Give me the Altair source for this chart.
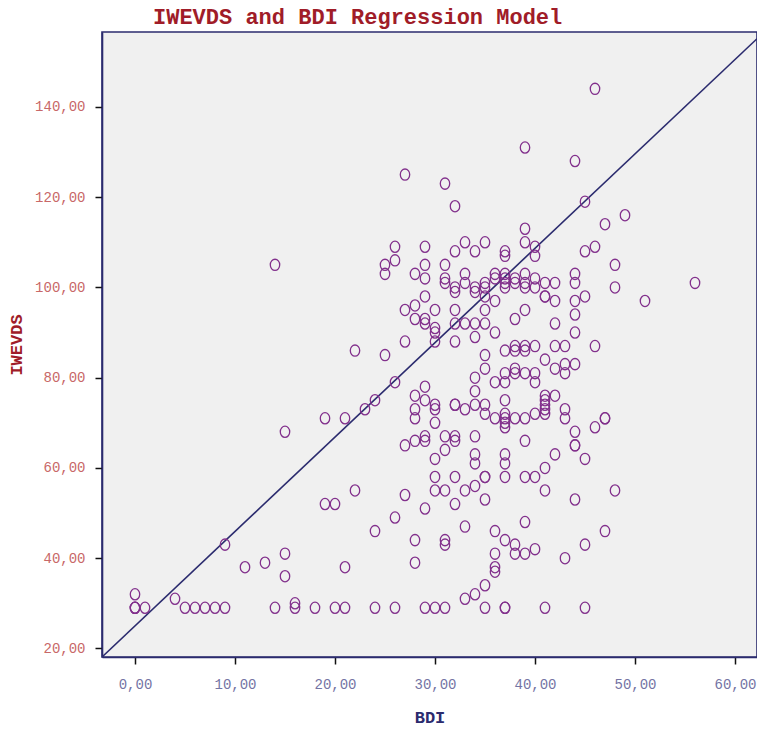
import altair as alt
import pandas as pd

# BDI value for each respondent (column by column)
bdi = (
    [0] * 4 + [1, 4, 5, 6, 7, 8] + [9] * 2 + [11, 13] + [14] * 2 + [15] * 3 + [16] * 2 + [18]
    + [19] * 2 + [20] * 2 + [21] * 3 + [22] * 2 + [23] + [24] * 3 + [25] * 3 + [26] * 5
    + [27] * 5 + [28] * 9 + [29] * 12 + [30] * 11 + [31] * 10 + [32] * 13 + [33] * 8
    + [34] * 13 + [35] * 15 + [36] * 10 + [37] * 20 + [38] * 10 + [39] * 15 + [40] * 10
    + [41] * 12 + [42] * 7 + [43] * 6 + [44] * 11 + [45] * 6 + [46] * 4 + [47] * 4
    + [48] * 3 + [49, 51, 56]
)

# IWEVDS value for each respondent, same order as bdi
iwevds = [
    32, 29, 29, 29,            # 0
    29, 31, 29, 29, 29, 29,    # 1,4,5,6,7,8
    43, 29,                    # 9
    38, 39,                    # 11,13
    105, 29,                   # 14
    68, 41, 36,                # 15
    30, 29,                    # 16
    29,                        # 18
    71, 52,                    # 19
    52, 29,                    # 20
    71, 38, 29,                # 21
    86, 55,                    # 22
    73,                        # 23
    75, 46, 29,                # 24
    105, 103, 85,              # 25
    109, 106, 79, 49, 29,      # 26
    125, 95, 88, 65, 54,       # 27
    103, 96, 93, 76, 73, 71, 66, 44, 39,                     # 28
    109, 105, 102, 98, 93, 92, 78, 75, 67, 66, 51, 29,       # 29
    95, 91, 90, 88, 74, 73, 70, 62, 58, 55, 29,              # 30
    123, 105, 102, 101, 67, 64, 55, 44, 43, 29,              # 31
    118, 108, 100, 99, 95, 92, 88, 74, 74, 67, 66, 58, 52,   # 32
    110, 103, 101, 92, 73, 55, 47, 31,                       # 33
    108, 100, 99, 92, 89, 80, 77, 74, 67, 63, 61, 56, 32,    # 34
    110, 101, 100, 98, 95, 92, 85, 82, 74, 72, 58, 58, 53, 34, 29,  # 35
    103, 102, 97, 90, 79, 71, 46, 41, 38, 37,                # 36
    108, 107, 103, 102, 101, 100, 86, 81, 79, 75, 72, 71, 70, 69, 63, 61, 58, 44, 29, 29,  # 37
    102, 101, 93, 87, 86, 82, 81, 71, 43, 41,                # 38
    131, 113, 110, 103, 101, 100, 95, 87, 86, 81, 71, 66, 58, 48, 41,  # 39
    109, 107, 102, 100, 87, 81, 79, 72, 58, 42,              # 40
    101, 98, 98, 84, 76, 75, 74, 73, 72, 60, 55, 29,         # 41
    101, 97, 92, 87, 82, 76, 63,                             # 42
    87, 83, 81, 73, 71, 40,                                  # 43
    128, 103, 101, 97, 94, 90, 83, 68, 65, 65, 53,           # 44
    119, 108, 98, 62, 43, 29,                                # 45
    144, 109, 87, 69,                                        # 46
    114, 71, 71, 46,                                         # 47
    105, 100, 55,                                            # 48
    116, 97, 101,                                            # 49,51,56
]

x_ticks = [0, 10, 20, 30, 40, 50, 60]
y_ticks = [20, 40, 60, 80, 100, 120, 140]
x_domain = [-3.3, 62.2]
y_domain = [18.1, 156.6]

# fit line endpoints (from the lower-left corner up through the right edge)
line_x = [-3.3, 62.2]
line_y = [18.1, 155.1]

pts = pd.DataFrame({"BDI": bdi, "IWEVDS": iwevds})
line_df = pd.DataFrame({"BDI": line_x, "IWEVDS": line_y})

MONO = "Liberation Mono"
NAVY = "#2b2b6e"

xscale = alt.Scale(domain=x_domain, nice=False, zero=False)
yscale = alt.Scale(domain=y_domain, nice=False, zero=False)

x_axis = alt.Axis(
    values=x_ticks, title="BDI", grid=False,
    labelExpr="replace(format(datum.value, '.2f'), '.', ',')",
    labelFont=MONO, labelFontSize=14, labelColor="#7474a4", labelPadding=13,
    titleFont=MONO, titleFontSize=17, titleFontWeight="bold", titleColor=NAVY,
    titlePadding=18,
    domainColor=NAVY, domainWidth=1.6, tickColor="#111111", tickSize=7, tickWidth=1.5,
)
y_axis = alt.Axis(
    values=y_ticks, title="IWEVDS", grid=False,
    labelExpr="replace(format(datum.value, '.2f'), '.', ',')",
    labelFont=MONO, labelFontSize=14, labelColor="#c86868", labelPadding=10,
    titleFont=MONO, titleFontSize=17, titleFontWeight="bold", titleColor="#a01c28",
    titlePadding=9,
    domainColor=NAVY, domainWidth=1.6, tickColor="#111111", tickSize=7, tickWidth=1.5,
)

ELLIPSE = "M -0.84,0 A 0.84,1 0 1,1 0.84,0 A 0.84,1 0 1,1 -0.84,0 Z"

points = alt.Chart(pts).mark_point(
    shape=ELLIPSE, size=126, filled=False, color="#82308c", strokeWidth=1.3, opacity=1, clip=True
).encode(
    x=alt.X("BDI:Q", scale=xscale, axis=x_axis),
    y=alt.Y("IWEVDS:Q", scale=yscale, axis=y_axis),
)

fit = alt.Chart(line_df).mark_line(color=NAVY, strokeWidth=1.6, clip=True).encode(
    x=alt.X("BDI:Q", scale=xscale),
    y=alt.Y("IWEVDS:Q", scale=yscale),
)

chart = (
    alt.layer(fit, points)
    .properties(
        width=655, height=625,
        title=alt.TitleParams(
            "IWEVDS and BDI Regression Model", font=MONO, fontSize=22, fontWeight="bold",
            color="#a01c28", anchor="start", frame="group", offset=3, dx=51,
        ),
        autosize=alt.AutoSizeParams(type="none"),
        padding={"left": 94, "top": 24, "right": 0, "bottom": 70},
        background="white",
    )
    .configure_view(fill="#f0f0f0", stroke=NAVY, strokeWidth=1.6)
)

chart.save("out.html", embed_options={"renderer": "svg", "actions": False})
